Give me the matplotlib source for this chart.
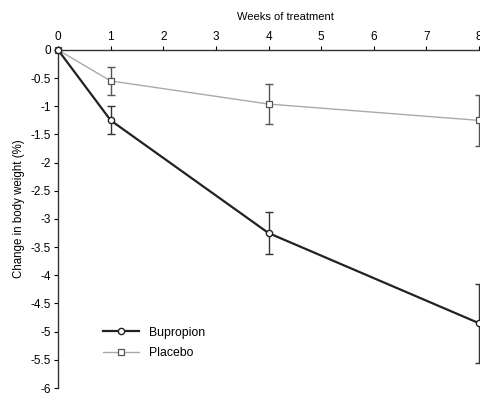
import matplotlib
matplotlib.use("Agg")
import matplotlib.pyplot as plt

plt.rcParams['font.family'] = ['Liberation Sans', 'DejaVu Sans']

weeks = [0, 1, 4, 8]
bupropion = [0, -1.25, -3.25, -4.85]
bupropion_err = [0, 0.25, 0.37, 0.70]
placebo = [0, -0.55, -0.96, -1.25]
placebo_err = [0, 0.25, 0.36, 0.45]

xticks = [0, 1, 2, 3, 4, 5, 6, 7, 8]
yticks = [0, -0.5, -1, -1.5, -2, -2.5, -3, -3.5, -4, -4.5, -5, -5.5, -6]
ylabels = ['0', '-0.5', '-1', '-1.5', '-2', '-2.5', '-3', '-3.5', '-4', '-4.5', '-5', '-5.5', '-6']

fig = plt.figure(figsize=(4.8, 3.94), dpi=100)
ax = fig.add_axes([0.121, 0.0152, 0.877, 0.858])

# error bars (no bar at baseline)
ax.errorbar(weeks[1:], placebo[1:], yerr=placebo_err[1:], fmt='none',
            ecolor='#555555', elinewidth=1.0, capsize=3, capthick=1.0, clip_on=False)
ax.errorbar(weeks[1:], bupropion[1:], yerr=bupropion_err[1:], fmt='none',
            ecolor='#333333', elinewidth=1.0, capsize=3, capthick=1.0, clip_on=False)

ax.plot(weeks, placebo, color='#aaaaaa', lw=1.0, marker='s', ms=4,
        mfc='white', mec='#555555', mew=0.9, label='Placebo', clip_on=False, zorder=3)
ax.plot(weeks, bupropion, color='#222222', lw=1.6, marker='o', ms=4.5,
        mfc='white', mec='#222222', mew=1.0, label='Bupropion', clip_on=False, zorder=4)

ax.set_xlim(0, 8)
ax.set_ylim(-6, 0)
ax.xaxis.tick_top()
ax.xaxis.set_label_position('top')
ax.set_xticks(xticks)
ax.set_yticks(yticks)
ax.set_yticklabels(ylabels)
ax.tick_params(axis='both', labelsize=8.5, length=3, width=0.8, direction='out', pad=2)
ax.set_xlabel('Weeks of treatment', fontsize=8)
ax.xaxis.set_label_coords(0.54, 1.09)
ax.set_ylabel('Change in body weight (%)', fontsize=8.3)
ax.yaxis.set_label_coords(-0.078, 0.53)

ax.spines['bottom'].set_visible(False)
ax.spines['right'].set_visible(False)
for s in ['top', 'left']:
    ax.spines[s].set_linewidth(1.0)
    ax.spines[s].set_color('#333333')

handles, labels = ax.get_legend_handles_labels()
ax.legend(handles[::-1], labels[::-1], loc='lower left', bbox_to_anchor=(0.08, 0.053),
          frameon=False, fontsize=8.8, handlelength=3.0, labelspacing=0.7)

fig.savefig('out.png', dpi=100)
